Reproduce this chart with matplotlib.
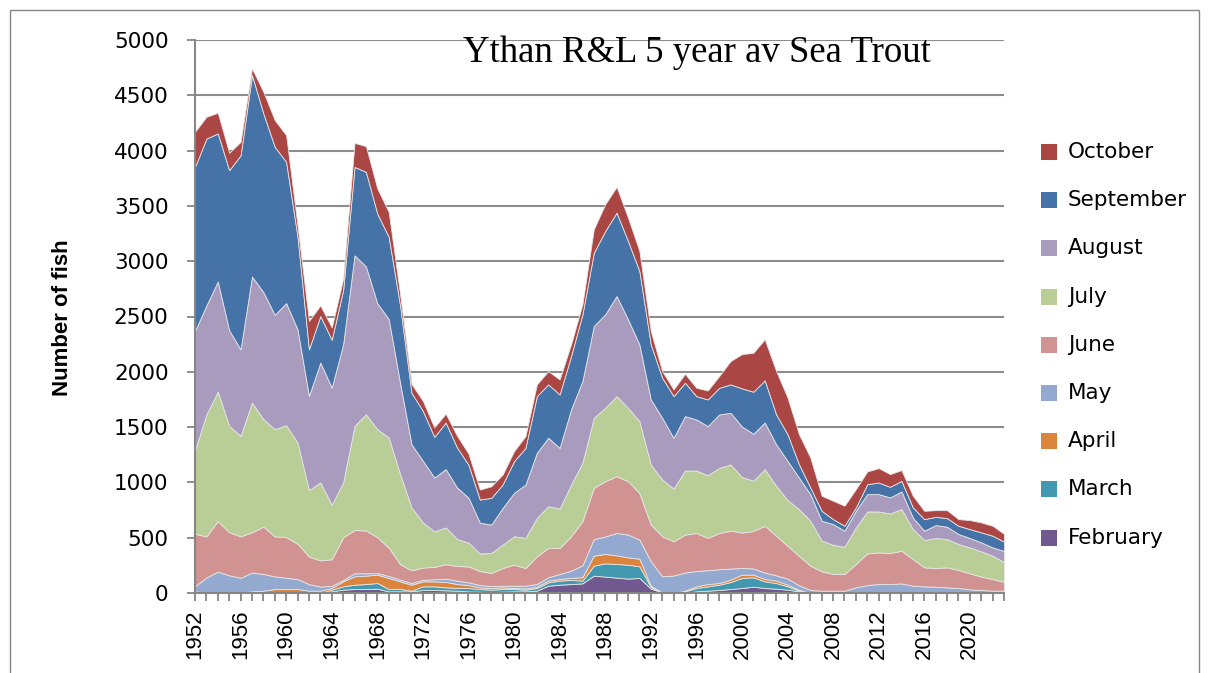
import matplotlib
matplotlib.use('Agg')
import matplotlib.pyplot as plt
from matplotlib.patches import Rectangle

# Ythan R&L 5 year average sea trout catch, stacked by month
years = list(range(1952, 2024))
months = ['February', 'March', 'April', 'May', 'June', 'July',
          'August', 'September', 'October']
colors = ['#71588F', '#4198AF', '#DB843D', '#93A9CF', '#D19392',
          '#B9CD96', '#A99BBD', '#4572A7', '#AA4643']

feb = [0, 0, 0, 0, 0, 0, 0, 0, 0, 0, 0, 0,
       15, 30, 36, 36, 39, 15, 15, 15, 27, 27, 24, 21, 14, 12, 9, 12, 15, 15,
       21, 66, 75, 81, 87, 157, 148, 139, 130, 136, 40, 6, 0, 0, 15, 21, 27, 36,
       45, 57, 45, 39, 30, 15,
       0, 0, 0, 0, 0, 0, 0, 0, 0, 0, 0, 0, 0, 0, 0, 0, 0, 0]
mar = [0, 0, 0, 0, 0, 0, 0, 0, 0, 0, 0, 0,
       15, 30, 39, 45, 51, 21, 21, 6, 33, 33, 27, 24, 31, 24, 21, 24, 21, 15,
       24, 30, 37, 37, 25, 90, 120, 123, 126, 105, 15, 0, 0, 15, 30, 39, 48, 63,
       91, 85, 60, 51, 30, 6,
       0, 0, 0, 0, 0, 0, 0, 0, 0, 0, 0, 0, 0, 0, 0, 0, 0, 0]
apr = [15, 6, 6, 6, 6, 15, 21, 36, 36, 36, 21, 21,
       15, 45, 76, 76, 76, 100, 69, 54, 45, 45, 49, 36, 27, 15, 15, 15, 9, 12,
       12, 16, 15, 18, 30, 91, 85, 78, 66, 69, 10, 0, 0, 6, 15, 21, 15, 22,
       30, 24, 22, 22, 15, 9,
       0, 0, 0, 0, 0, 0, 0, 0, 0, 0, 0, 0, 0, 0, 0, 0, 0, 0]
may = [47, 134, 187, 154, 132, 169, 151, 114, 102, 89,
       59, 37, 20, 13, 27, 21, 14, 18, 16, 15,
       14, 19, 30, 30, 24, 21, 18, 15, 21, 24,
       24, 30, 45, 66, 108, 150, 158, 203, 206, 173,
       222, 145, 158, 164, 139, 125, 125, 100, 60, 56,
       57, 48, 55, 40, 27, 21, 21, 21, 51, 72,
       81, 81, 87, 66, 60, 57, 51, 45, 33, 27,
       21, 21]
jun = [473, 372, 457, 390, 374, 366, 428, 362, 367, 320,
       250, 237, 240, 385, 392, 387, 325, 256, 139, 115,
       111, 112, 130, 133, 144, 127, 118, 160, 190, 160,
       251, 265, 235, 311, 399, 462, 500, 513, 483, 422,
       331, 362, 310, 343, 344, 292, 328, 343, 320, 338,
       424, 358, 297, 267, 220, 175, 151, 151, 211, 286,
       286, 280, 295, 241, 172, 169, 181, 163, 145, 121,
       105, 81]
jul = [755, 1104, 1171, 961, 909, 1172, 971, 969, 1012, 915,
       600, 705, 493, 497, 941, 1051, 976, 996, 815, 569,
       408, 321, 333, 244, 215, 158, 181, 211, 257, 272,
       347, 377, 356, 467, 528, 634, 663, 724, 663, 649,
       544, 513, 476, 579, 564, 567, 588, 598, 503, 455,
       512, 451, 413, 422, 406, 277, 264, 246, 331, 379,
       370, 358, 377, 271, 247, 271, 256, 234, 234, 228,
       211, 178]
aug = [1080, 984, 996, 864, 782, 1140, 1149, 1034, 1104, 1024,
       852, 1083, 1059, 1248, 1542, 1337, 1139, 1072, 825, 571,
       557, 487, 527, 466, 407, 279, 256, 332, 392, 482,
       588, 619, 549, 679, 739, 830, 845, 905, 800, 694,
       588, 558, 459, 492, 462, 444, 483, 467, 456, 425,
       421, 376, 355, 285, 241, 180, 187, 145, 150, 157,
       157, 145, 159, 105, 84, 117, 111, 91, 85, 82,
       75, 100]
sep = [1483, 1509, 1338, 1448, 1755, 1821, 1616, 1519, 1277, 836,
       421, 421, 433, 492, 800, 855, 810, 742, 700, 465,
       451, 368, 421, 361, 298, 209, 242, 212, 287, 332,
       513, 483, 483, 483, 603, 663, 754, 754, 709, 664,
       498, 362, 377, 302, 211, 241, 241, 257, 345, 380,
       382, 271, 241, 121, 60, 90, 45, 45, 31, 90,
       105, 96, 96, 91, 105, 75, 78, 75, 81, 90,
       106, 85]
octo = [317, 197, 187, 157, 121, 60, 196, 241, 242, 100,
        256, 96, 110, 100, 217, 232, 227, 225, 100, 80,
        91, 84, 81, 106, 100, 90, 105, 90, 90, 106,
        106, 120, 136, 106, 91, 212, 242, 233, 211, 180,
        120, 60, 60, 81, 75, 81, 106, 211, 310, 352,
        371, 392, 331, 271, 271, 136, 166, 181, 165, 115,
        130, 115, 97, 105, 75, 60, 72, 60, 81, 90,
        90, 70]

W, H = 1208, 673
grey = '#868686'

fig = plt.figure(figsize=(W / 100, H / 100), dpi=100)
ax = fig.add_axes([195 / W, 1 - 593 / H, (1004 - 195) / W, (593 - 40) / H])

ax.stackplot(years, feb, mar, apr, may, jun, jul, aug, sep, octo,
             colors=colors, linewidth=0.6, edgecolor='#e6e6e6')

ax.set_xlim(1952, 2023)
ax.set_ylim(0, 5000)
ax.set_yticks(range(0, 5001, 500))
ax.yaxis.grid(True, color='#8c8c8c', linewidth=1.5)
ax.set_axisbelow(True)

ax.set_xticks(years)
ax.set_xticklabels([str(y) if (y - 1952) % 4 == 0 else '' for y in years],
                   rotation=90, family='Liberation Sans', fontsize=16)
for lab in ax.get_yticklabels():
    lab.set_family('DejaVu Sans')
    lab.set_fontsize(15.5)

ax.tick_params(axis='x', direction='out', length=6, width=1.3, color=grey, pad=6)
ax.tick_params(axis='y', direction='out', length=6, width=1.3, color=grey, pad=13)

for s in ['top', 'right']:
    ax.spines[s].set_visible(False)
for s in ['left', 'bottom']:
    ax.spines[s].set_color(grey)
    ax.spines[s].set_linewidth(1.5)

fig.text(697 / W, 1 - 53 / H, 'Ythan R&L 5 year av Sea Trout',
         family='Liberation Serif', fontsize=26.5, ha='center', va='center')
fig.text(62 / W, 1 - 318 / H, 'Number of fish', rotation=90,
         family='Liberation Sans', fontweight='bold', fontsize=16,
         ha='center', va='center')

# legend, October on top
for i, (name, c) in enumerate(zip(months[::-1], colors[::-1])):
    yc = 152 + i * 48.2
    fig.add_artist(Rectangle((1041 / W, 1 - (yc + 8) / H), 16 / W, 16 / H,
                             transform=fig.transFigure, facecolor=c,
                             edgecolor='none'))
    fig.text(1068 / W, 1 - yc / H, name, family='DejaVu Sans', fontsize=15.5,
             ha='left', va='center')

# chart area border
fig.add_artist(Rectangle((10 / W, -0.05), (1199 - 10) / W, 1.05 - 10 / H,
                         transform=fig.transFigure, fill=False,
                         edgecolor=grey, linewidth=1))

fig.savefig('out.png', dpi=100)
